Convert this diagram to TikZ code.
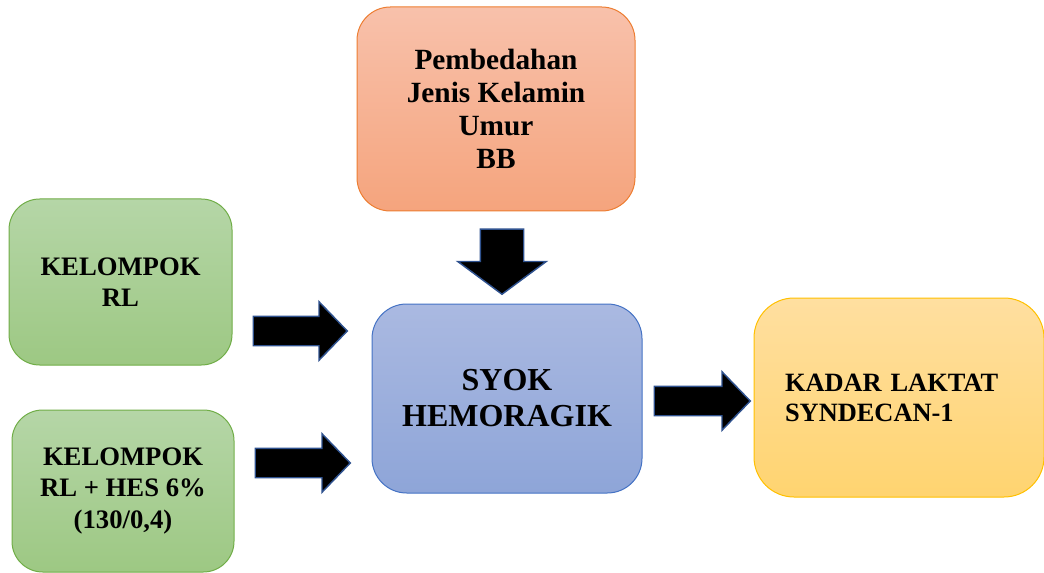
\documentclass[tikz,border=0pt]{standalone}
\usepackage{fontspec}
\setmainfont{Liberation Serif}
\usetikzlibrary{arrows,positioning}
\usetikzlibrary{shapes.arrows,calc}
\definecolor{faktorbr}{HTML}{ED7D31}
\definecolor{kelbr}{HTML}{70AD47}
\definecolor{syokbr}{HTML}{4472C4}
\definecolor{kadarbr}{HTML}{FFC000}
\definecolor{arrowbr}{HTML}{2F528F}
\tikzset{
	box/.style={draw, line width=0.75pt, rounded corners=23pt, align=center, font=\bfseries},
	fatarrow/.style={single arrow, draw=arrowbr, fill=black, line width=1.1pt, inner xsep=0pt, inner ysep=10.5pt, single arrow head extend=10.875pt, single arrow tip angle=92},
	% yscale=-1 flips the node rotation, hence y1-y2
	blockarr/.style n args={2}{to path={let \p1=(\tikztostart), \p2=(\tikztotarget) in node[fatarrow, minimum height={veclen(\x2-\x1,\y2-\y1)}, rotate={atan2(\y1-\y2,\x2-\x1)}, anchor=tail, #2] (#1) at (\p1) {}}}
}

\begin{document}
\begin{tikzpicture}[x=0.75pt,y=0.75pt,yscale=-1,xscale=1]
	\useasboundingbox (0,0) rectangle (1044,573);
	
	%Rounded Rect: faktor
	\node [box, draw=faktorbr, top color={rgb,255:red,248;green,193;blue,171}, bottom color={rgb,255:red,245;green,164;blue,125}, minimum width=208.5pt, minimum height=153pt, rounded corners=25pt, font=\bfseries\fontsize{22}{24.75}\selectfont] (faktor) at (496,109) {Pembedahan\\Jenis Kelamin\\Umur\\BB};
	%Rounded Rect: kelompok RL
	\node [box, draw=kelbr, top color={rgb,255:red,181;green,214;blue,167}, bottom color={rgb,255:red,157;green,200;blue,131}, minimum width=167.25pt, minimum height=124.5pt, font=\bfseries\fontsize{20}{23.5}\selectfont] (rl) at (120.5,282) {KELOMPOK\\RL};
	%Rounded Rect: kelompok RL + HES
	\node [box, draw=kelbr, top color={rgb,255:red,181;green,214;blue,167}, bottom color={rgb,255:red,157;green,200;blue,131}, minimum width=166.5pt, minimum height=121.5pt, font=\bfseries\fontsize{20}{23.5}\selectfont] (hes) at (123,491) {KELOMPOK\\RL + HES 6\%\\(130/0,4)};
	%Rounded Rect: syok
	\node [box, draw=syokbr, top color={rgb,255:red,170;green,185;blue,225}, bottom color={rgb,255:red,142;green,165;blue,216}, minimum width=202.5pt, minimum height=141.75pt, rounded corners=26pt, font=\bfseries\fontsize{24}{27}\selectfont] (syok) at (507,398.5) {SYOK\\HEMORAGIK};
	%Rounded Rect: kadar
	\node [box, draw=kadarbr, top color={rgb,255:red,255;green,223;blue,160}, bottom color={rgb,255:red,255;green,212;blue,112}, minimum width=217.5pt, minimum height=149.25pt, rounded corners=30pt, text width=171pt, inner xsep=23.25pt, align=left, font=\bfseries\fontsize{19.8}{22.5}\selectfont] (kadar) at (899,397.5) {KADAR LAKTAT\\SYNDECAN-1};
	
	%Block Arrows
	\path ($(faktor.south)+(6,17)$) to[blockarr={arrTop}{inner ysep=15.75pt, single arrow head extend=16.875pt, single arrow tip angle=107}] ($(syok.north)+(-5,-10)$);
	\path ($(rl.east)+(20,49)$) to[blockarr={arrRL}{}] ($(syok.west)+(-25,-67.5)$);
	\path ($(hes.east)+(20,-28)$) to[blockarr={arrHES}{}] ($(syok.west)+(-22,64.5)$);
	\path ($(syok.east)+(11,2.5)$) to[blockarr={arrKadar}{}] ($(kadar.west)+(-4,3.5)$);
	
\end{tikzpicture}
\end{document}
